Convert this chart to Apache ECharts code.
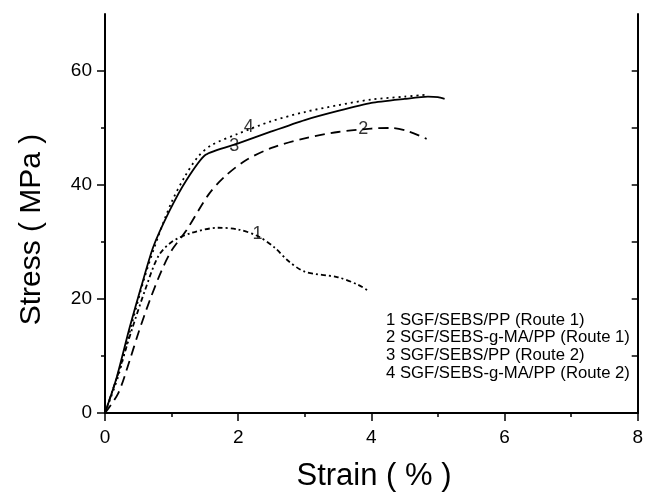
<!DOCTYPE html>
<html>
<head>
<meta charset="utf-8">
<script src="https://cdn.jsdelivr.net/npm/echarts@6/dist/echarts.min.js"></script>
<style>html,body{margin:0;padding:0;background:#fff}#c{width:646px;height:492px}</style>
</head>
<body>
<div id="c"></div>
<script>
// ---- data (strain %, stress MPa) ----
const curve1 = [[0,0],[0.2,7],[0.4,14.5],[0.6,21.5],[0.8,27.5],[1.0,30],[1.3,31.6],[1.7,32.5],[2.0,32.2],[2.3,31],[2.55,29],[2.75,26.7],[3.0,24.8],[3.5,23.8],[3.8,22.5],[3.96,21.4]];
const curve2 = [[0,0],[0.2,3.5],[0.37,9.2],[0.5,14],[0.67,19.7],[0.85,25],[1.0,28.5],[1.22,32],[1.56,38.4],[1.8,41.5],[2.11,44.3],[2.5,46.5],[3.0,48.2],[3.5,49.3],[4.0,49.9],[4.3,50],[4.56,49.4],[4.83,48.1]];
const curve3 = [[0,0],[0.17,6],[0.37,15],[0.54,22],[0.72,29],[0.97,35.5],[1.22,40.8],[1.51,45.3],[2.0,47.3],[2.5,49.4],[3.0,51.4],[3.5,53],[4.0,54.4],[4.5,55.1],[4.85,55.5],[5.0,55.4],[5.1,55.1]];
const curve4 = [[0,0],[0.2,6.5],[0.4,15.5],[0.6,24],[0.8,31],[1.0,37],[1.2,41.5],[1.4,45],[1.6,47],[2.0,49],[2.5,51.2],[3.0,52.8],[3.5,54],[4.0,55],[4.5,55.5],[4.8,55.8]];
const curveLabels = [["1",2.29,31.4],["2",3.88,49.8],["3",1.94,46.9],["4",2.16,50.2]];
const legendLines = ["1 SGF/SEBS/PP (Route 1)","2 SGF/SEBS-g-MA/PP (Route 1)","3 SGF/SEBS/PP (Route 2)","4 SGF/SEBS-g-MA/PP (Route 2)"];
const xMin = 0, xMax = 8, xStep = 2;
const yMin = 0, yMax = 70;
const yMajor = [0,20,40,60];
const yMinor = [10,30,50];
const yRight = [0,10,20,30,40,50,60];
const xTitle = "Strain ( % )";
const yTitle = "Stress ( MPa )";

const FONT = "Liberation Sans, Arial, sans-serif";
const chart = echarts.init(document.getElementById('c'), null, {renderer:'canvas'});
const lineAx = {show:true, lineStyle:{color:'#000', width:2}};
const grid = {left:105, right:6, top:14, bottom:79};

const option = {
  animation:false,
  backgroundColor:'#fff',
  grid: grid,
  xAxis: [
    {type:'value', position:'bottom', min:xMin, max:xMax, interval:xStep,
     axisLine:lineAx, splitLine:{show:false},
     axisTick:{show:true, inside:false, length:6, lineStyle:{color:'#000', width:1.5}},
     minorTick:{show:true, splitNumber:2, length:3, lineStyle:{color:'#000', width:1.5}},
     axisLabel:{color:'#000', fontSize:19, fontFamily:FONT, margin:15}},
    {type:'value', position:'top', min:xMin, max:xMax, interval:xStep,
     axisLine:lineAx, splitLine:{show:false},
     axisTick:{show:true, inside:true, length:8, lineStyle:{color:'#000', width:1.5}},
     minorTick:{show:true, splitNumber:2, length:4, lineStyle:{color:'#000', width:1.5}},
     axisLabel:{show:false}}
  ],
  yAxis: [
    {type:'value', position:'left', min:yMin, max:yMax, interval:10,
     axisLine:lineAx, splitLine:{show:false},
     axisTick:{show:true, inside:false, length:8, customValues:yMajor, lineStyle:{color:'#000', width:1.5}},
     axisLabel:{color:'#000', fontSize:19, fontFamily:FONT, margin:13, customValues:yMajor}},
    {type:'value', position:'left', min:yMin, max:yMax, interval:10,
     axisLine:{show:false}, splitLine:{show:false},
     axisTick:{show:true, inside:false, length:4, customValues:yMinor, lineStyle:{color:'#000', width:1.5}},
     axisLabel:{show:false}},
    {type:'value', position:'right', min:yMin, max:yMax, interval:10,
     axisLine:lineAx, splitLine:{show:false},
     axisTick:{show:true, inside:true, length:6, customValues:yRight, lineStyle:{color:'#000', width:1.5}},
     axisLabel:{show:false}}
  ],
  series: [
    {type:'line', data:curve1, showSymbol:false, smooth:0.3, lineStyle:{color:'#000', width:1.8, type:[5,3,2,3]}},
    {type:'line', data:curve2, showSymbol:false, smooth:0.3, lineStyle:{color:'#000', width:1.8, type:[10,6]}},
    {type:'line', data:curve3, showSymbol:false, smooth:0.2, lineStyle:{color:'#000', width:1.8, type:'solid'}},
    {type:'line', data:curve4, showSymbol:false, smooth:0.3, lineStyle:{color:'#000', width:1.8, type:[2,4]}},
    {type:'scatter', symbolSize:1, itemStyle:{color:'rgba(0,0,0,0)'},
     data: curveLabels.map(d => ({value:[d[1], d[2]], name:d[0]})),
     label:{show:true, position:'inside', formatter:p=>p.name, color:'#000', fontSize:18, fontFamily:FONT}}
  ],
  graphic: [
    {type:'text', x:31.5, y:229.5, rotation:Math.PI/2,
     style:{text:yTitle, font:'30px '+FONT, fill:'#000', textAlign:'center', textVerticalAlign:'middle'}},
    {type:'text', x:374, y:476, style:{text:xTitle, font:'31px '+FONT, fill:'#000', textAlign:'center', textVerticalAlign:'middle'}}
  ].concat(legendLines.map((t,i)=>({type:'text', x:386, y:320 + i*17.7,
     style:{text:t, font:'16.7px '+FONT, fill:'#000', textAlign:'left', textVerticalAlign:'middle'}})))
};
chart.setOption(option);
</script>
</body>
</html>
